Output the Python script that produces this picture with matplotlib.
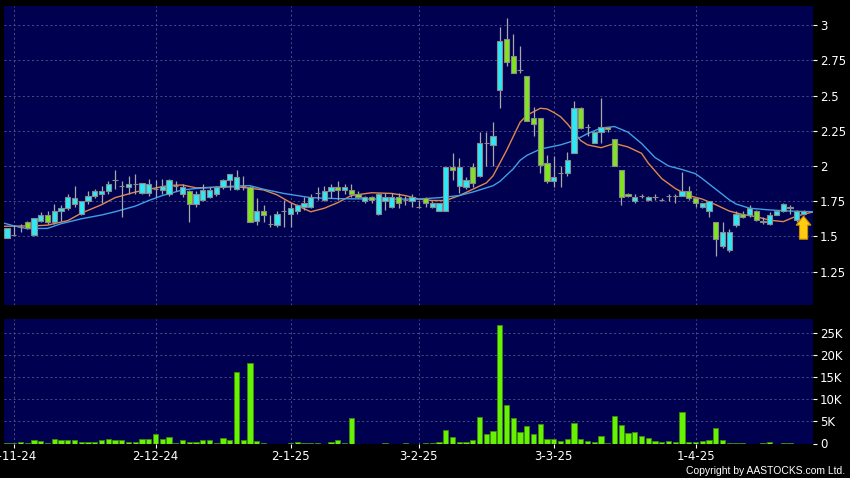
'''Importing Libraries'''
import numpy as np
import matplotlib
matplotlib.use('Agg')
import matplotlib.pyplot as plt

'''Chart Data (read off the reference)'''
opens = [1.49, 1.51, 1.57, 1.60, 1.51, 1.61, 1.65, 1.60, 1.68, 1.70,
         1.73, 1.66, 1.75, 1.79, 1.80, 1.82, 1.90, 1.86, 1.85, 1.87,
         1.81, 1.81, 1.84, 1.83, 1.80, 1.86, 1.80, 1.82, 1.73, 1.76,
         1.78, 1.80, 1.85, 1.90, 1.84, 1.86, 1.85, 1.61, 1.68, 1.59,
         1.58, 1.68, 1.66, 1.68, 1.71, 1.71, 1.81, 1.76, 1.82, 1.85,
         1.83, 1.83, 1.80, 1.75, 1.78, 1.66, 1.75, 1.71, 1.78, 1.76,
         1.75, 1.71, 1.77, 1.71, 1.68, 1.68, 1.99, 1.86, 1.85, 1.99,
         1.93, 2.16, 2.15, 2.54, 2.90, 2.78, 2.68, 2.64, 2.34, 2.34,
         2.02, 1.89, 1.95, 1.95, 2.09, 2.41, 2.28, 2.16, 2.24, 2.28,
         2.19, 1.97, 1.80, 1.75, 1.79, 1.76, 1.78, 1.76, 1.79, 1.79,
         1.79, 1.82, 1.77, 1.71, 1.68, 1.60, 1.43, 1.40, 1.58, 1.66,
         1.65, 1.68, 1.61, 1.59, 1.65, 1.68, 1.71, 1.62, 1.66]
highs = [1.56, 1.58, 1.59, 1.61, 1.63, 1.67, 1.68, 1.73, 1.72, 1.80,
         1.86, 1.75, 1.82, 1.84, 1.86, 1.89, 1.97, 1.89, 1.93, 1.94,
         1.88, 1.91, 1.90, 1.91, 1.91, 1.89, 1.87, 1.83, 1.82, 1.87,
         1.85, 1.86, 1.91, 1.94, 1.97, 1.93, 1.86, 1.77, 1.72, 1.65,
         1.68, 1.76, 1.74, 1.73, 1.78, 1.80, 1.85, 1.86, 1.87, 1.89,
         1.87, 1.87, 1.82, 1.79, 1.79, 1.81, 1.81, 1.81, 1.81, 1.79,
         1.80, 1.76, 1.78, 1.75, 1.74, 1.99, 2.09, 2.06, 1.92, 2.02,
         2.24, 2.24, 2.31, 2.99, 3.05, 2.94, 2.85, 2.64, 2.42, 2.34,
         2.08, 2.07, 2.00, 2.10, 2.46, 2.42, 2.30, 2.25, 2.48, 2.28,
         2.19, 1.97, 1.81, 1.80, 1.80, 1.79, 1.80, 1.77, 1.80, 1.80,
         1.96, 1.86, 1.77, 1.74, 1.75, 1.60, 1.60, 1.55, 1.68, 1.68,
         1.72, 1.69, 1.64, 1.67, 1.68, 1.74, 1.72, 1.69, 1.69]
lows = [1.49, 1.51, 1.53, 1.55, 1.50, 1.60, 1.59, 1.59, 1.61, 1.69,
        1.71, 1.65, 1.73, 1.77, 1.74, 1.80, 1.84, 1.64, 1.80, 1.80,
        1.80, 1.79, 1.78, 1.80, 1.79, 1.82, 1.78, 1.60, 1.71, 1.75,
        1.77, 1.79, 1.84, 1.83, 1.83, 1.83, 1.60, 1.58, 1.60, 1.57,
        1.57, 1.57, 1.57, 1.66, 1.69, 1.70, 1.76, 1.75, 1.77, 1.76,
        1.80, 1.78, 1.77, 1.74, 1.74, 1.65, 1.69, 1.70, 1.70, 1.72,
        1.71, 1.70, 1.71, 1.70, 1.68, 1.68, 1.90, 1.81, 1.84, 1.85,
        1.92, 2.00, 2.00, 2.41, 2.71, 2.66, 2.66, 2.32, 2.21, 1.95,
        1.88, 1.85, 1.85, 1.93, 2.09, 2.26, 2.21, 2.16, 2.16, 2.24,
        2.00, 1.72, 1.78, 1.74, 1.77, 1.75, 1.76, 1.75, 1.75, 1.74,
        1.79, 1.76, 1.71, 1.70, 1.64, 1.36, 1.42, 1.39, 1.57, 1.63,
        1.64, 1.61, 1.59, 1.58, 1.65, 1.67, 1.66, 1.60, 1.65]
closes = [1.56, 1.51, 1.57, 1.56, 1.63, 1.65, 1.60, 1.68, 1.70, 1.78,
          1.77, 1.75, 1.79, 1.82, 1.82, 1.87, 1.90, 1.86, 1.87, 1.87,
          1.88, 1.87, 1.84, 1.86, 1.90, 1.86, 1.85, 1.73, 1.80, 1.83,
          1.83, 1.85, 1.90, 1.94, 1.92, 1.86, 1.60, 1.68, 1.65, 1.59,
          1.66, 1.68, 1.70, 1.72, 1.74, 1.78, 1.81, 1.82, 1.85, 1.83,
          1.85, 1.80, 1.78, 1.78, 1.76, 1.80, 1.78, 1.78, 1.74, 1.76,
          1.78, 1.71, 1.74, 1.74, 1.74, 1.99, 1.97, 1.99, 1.90, 1.88,
          2.16, 2.16, 2.21, 2.89, 2.74, 2.66, 2.68, 2.32, 2.30, 2.01,
          1.89, 1.92, 1.95, 2.04, 2.41, 2.27, 2.28, 2.24, 2.28, 2.26,
          2.00, 1.78, 1.79, 1.78, 1.79, 1.78, 1.78, 1.76, 1.79, 1.79,
          1.82, 1.77, 1.74, 1.74, 1.75, 1.48, 1.53, 1.53, 1.66, 1.64,
          1.70, 1.62, 1.60, 1.65, 1.68, 1.73, 1.70, 1.68, 1.68]
# volume in thousands of shares
volume_k = [0.2, 0.2, 0.4, 0.2, 0.75, 0.5, 0.15, 1.1, 0.7, 0.7,
            0.9, 0.3, 0.45, 0.45, 0.75, 1.0, 0.75, 0.75, 0.3, 0.4,
            1.1, 1.1, 2.25, 1.05, 1.45, 0.2, 0.9, 0.45, 0.3, 0.7,
            0.7, 0.05, 1.35, 0.9, 16.05, 0.9, 18.1, 0.6, 0.1, 0.0,
            0.0, 0.0, 0.05, 0.4, 0.1, 0.2, 0.2, 0.0, 0.3, 0.7,
            0.2, 5.65, 0.0, 0.0, 0.0, 0.0, 0.15, 0.0, 0.0, 0.15,
            0.0, 0.0, 0.2, 0.2, 0.3, 3.0, 1.5, 0.4, 0.4, 0.75,
            6.0, 2.05, 2.85, 26.75, 8.65, 5.65, 2.65, 3.9, 2.05, 4.45,
            1.0, 1.0, 0.5, 1.0, 4.65, 1.1, 0.6, 0.4, 1.65, 0.2,
            6.2, 4.15, 2.4, 2.7, 1.75, 1.3, 0.5, 0.4, 0.5, 0.45,
            7.1, 0.45, 0.45, 0.6, 0.9, 3.4, 0.7, 0.15, 0.15, 0.1,
            0.0, 0.0, 0.1, 0.3, 0.0, 0.15, 0.1, 0.0, 0.0]

# moving averages, read at selected bars
ma_short_idx = [-0.5, 4, 6, 9, 11, 14, 16, 19, 21, 24, 26, 28, 31, 34, 36, 38, 40,
                42, 45, 47, 49, 51, 54, 57, 59, 61, 63, 65, 67, 69, 71, 72, 73,
                74, 75, 76, 77, 79, 80, 81, 82, 83, 84, 85, 86, 88, 90, 92, 94,
                95, 97, 99, 101, 103, 105, 107, 109, 111, 113, 115, 117, 119.5]
ma_short = [1.572, 1.575, 1.58, 1.612, 1.665, 1.725, 1.775, 1.815, 1.835, 1.862,
            1.865, 1.845, 1.849, 1.853, 1.842, 1.83, 1.795, 1.74, 1.675, 1.70,
            1.74, 1.79, 1.81, 1.805, 1.79, 1.765, 1.755, 1.755, 1.79, 1.835,
            1.88, 1.93, 2.02, 2.11, 2.21, 2.31, 2.36, 2.41, 2.405, 2.38, 2.35,
            2.30, 2.24, 2.18, 2.15, 2.13, 2.16, 2.135, 2.09, 2.02, 1.91, 1.84,
            1.79, 1.765, 1.725, 1.68, 1.655, 1.64, 1.615, 1.605, 1.645, 1.675]
ma_long_idx = [-0.5, 1, 3, 6, 8, 11, 14, 16, 19, 21, 23, 26, 28, 31, 34, 36, 38,
               41, 45, 49, 55, 61, 64, 67, 69, 72, 73, 75, 76, 77, 79, 82, 84,
               86, 88, 90, 92, 94, 96, 98, 100, 102, 103, 105, 107, 108, 110,
               113, 116, 119.5]
ma_long = [1.595, 1.575, 1.555, 1.557, 1.59, 1.625, 1.652, 1.675, 1.715, 1.755,
           1.79, 1.83, 1.84, 1.85, 1.858, 1.86, 1.835, 1.805, 1.775, 1.768,
           1.765, 1.765, 1.775, 1.79, 1.815, 1.86, 1.89, 1.98, 2.04, 2.075,
           2.12, 2.15, 2.18, 2.23, 2.27, 2.28, 2.24, 2.16, 2.06, 2.00, 1.975,
           1.945, 1.91, 1.835, 1.76, 1.73, 1.70, 1.688, 1.68, 1.675]

tick_idx = [1, 22, 42, 61, 81, 102]
tick_labels = ['1-11-24', '2-12-24', '2-1-25', '3-2-25', '3-3-25', '1-4-25']
price_ticks = [1.25, 1.5, 1.75, 2, 2.25, 2.5, 2.75, 3]
price_labels = ['1.25', '1.5', '1.75', '2', '2.25', '2.5', '2.75', '3']
vol_ticks = [0, 5, 10, 15, 20, 25]
vol_labels = ['0', '5K', '10K', '15K', '20K', '25K']

'''Styling'''
BG = '#000050'
UP = '#30e8f5'
DOWN = '#80e41e'
GRID = '#55558c'
plt.rcParams['font.family'] = ['DejaVu Sans']

o = np.array(opens)
h = np.array(highs)
l = np.array(lows)
c = np.array(closes)
x = np.arange(len(o))

fig = plt.figure(figsize=(8.5, 4.78), dpi=100, facecolor='black')
ax = fig.add_axes([4 / 850, 1 - 305 / 478, 809 / 850, 299 / 478])
axv = fig.add_axes([4 / 850, 1 - 443.5 / 478, 809 / 850, 124.5 / 478], sharex=ax)

for a in (ax, axv):
    a.set_facecolor(BG)
    for s in a.spines.values():
        s.set_visible(False)
    a.yaxis.tick_right()
    a.tick_params(colors='white', labelcolor='white', labelsize=8.5, length=3, width=0.8, pad=2)
    a.grid(True, color=GRID, linestyle=(0, (2.5, 3)), linewidth=0.6)
    a.set_axisbelow(True)

'''Moving Averages'''
ax.plot(ma_short_idx, ma_short, color='#e0884a', linewidth=1.0, zorder=2)
ax.plot(ma_long_idx, ma_long, color='#3ea0e6', linewidth=1.0, zorder=2)

'''Candles'''
up = c >= o
body_col = np.where(up, UP, DOWN)
ax.vlines(x, l, h, color='#a8a8a8', linewidth=0.9, zorder=3)
ax.bar(x, c - o, bottom=o, width=0.78, color=body_col, edgecolor='#8a8a8a', linewidth=0.8, zorder=4)

# yellow arrow under the latest bar
ax.arrow(x[-1], l[-1] - 0.17, 0, 0.1, width=1.2, head_width=2.2, head_length=0.065,
         length_includes_head=False, facecolor='#ffcc10', edgecolor='#c88a00', linewidth=0.8, zorder=5)

ax.set_ylim(1.013, 3.136)
ax.set_yticks(price_ticks)
ax.set_yticklabels(price_labels)
ax.set_xlim(-0.45, 119.4)
ax.tick_params(axis='x', bottom=False, labelbottom=False)

'''Volume'''
axv.bar(x, volume_k, width=0.78, color='#66f200', edgecolor='#3c8a10', linewidth=0.6, zorder=3)
axv.set_ylim(0, 28.1)
axv.set_yticks(vol_ticks)
axv.set_yticklabels(vol_labels)
axv.set_xticks(tick_idx)
axv.set_xticklabels(tick_labels)

fig.text(845 / 850, 1 - 471 / 478, 'Copyright by AASTOCKS.com Ltd.', color='white', fontsize=7.5,
         family='Liberation Sans', ha='right', va='center')

plt.savefig('out.png', dpi=100, facecolor='black')
